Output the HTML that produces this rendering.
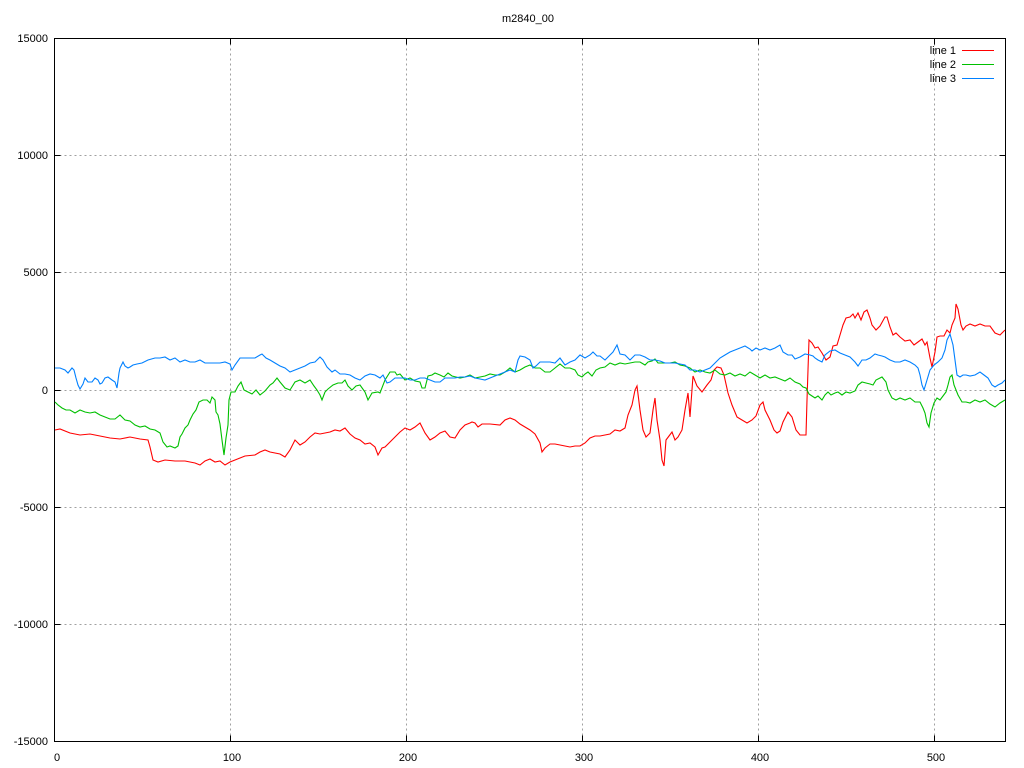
<!DOCTYPE html>
<html><head><meta charset="utf-8"><style>body{margin:0;background:#fff}svg{display:block}text{font-family:"Liberation Sans",sans-serif;font-size:11px;fill:#000}</style></head><body>
<svg width="1024" height="768" viewBox="0 0 1024 768">
<g stroke="#a0a0a0" stroke-dasharray="2,3" stroke-width="1" fill="none">
<path d="M54.5 155.5H1005.5M54.5 272.5H1005.5M54.5 390.5H1005.5M54.5 507.5H1005.5M54.5 624.5H1005.5"/>
<path d="M230.5 38.5V741.5M406.5 38.5V741.5M582.5 38.5V741.5M758.5 38.5V741.5M934.5 38.5V741.5"/>
</g>
<g stroke="#000" stroke-width="1" fill="none">
<rect x="54.5" y="38.5" width="951" height="703"/>
<path d="M54.5 155.5h6M54.5 272.5h6M54.5 390.5h6M54.5 507.5h6M54.5 624.5h6M1005.5 155.5h-6M1005.5 272.5h-6M1005.5 390.5h-6M1005.5 507.5h-6M1005.5 624.5h-6"/>
<path d="M230.5 741.5v-6M406.5 741.5v-6M582.5 741.5v-6M758.5 741.5v-6M934.5 741.5v-6M230.5 38.5v6M406.5 38.5v6M582.5 38.5v6M758.5 38.5v6M934.5 38.5v6"/>
</g>
<g text-anchor="end">
<text x="48" y="42">15000</text><text x="48" y="159">10000</text><text x="48" y="276">5000</text><text x="48" y="394">0</text><text x="48" y="511">-5000</text><text x="48" y="628">-10000</text><text x="48" y="745">-15000</text>
</g>
<g text-anchor="middle">
<text x="57" y="761">0</text><text x="232" y="761">100</text><text x="408" y="761">200</text><text x="584" y="761">300</text><text x="760" y="761">400</text><text x="936" y="761">500</text>
<text x="528" y="22">m2840_00</text>
</g>
<g text-anchor="end" style="font-family:'Liberation Mono',monospace">
<text x="956" y="54">line 1</text><text x="956" y="68">line 2</text><text x="956" y="82">line 3</text>
</g>
<path d="M962 50.5h32" stroke="#ff0000"/><path d="M962 64.5h32" stroke="#00c000"/><path d="M962 78.5h32" stroke="#0080ff"/>
<g fill="none" stroke-width="1.1">
<polyline stroke="#ff0000" points="55,430 60,429 70,433 80,435 90,434 100,436 110,438 120,439 130,437 140,439 148,440 150,447 153,460 158,462 165,460 175,461 185,461 195,463 200,465 205,461 210,459 215,462 220,461 225,465 230,462 235,460 240,458 245,456 255,455 260,452 265,450 270,452 280,454 285,457 290,450 295,440 300,445 305,442 310,437 315,433 320,434 330,432 335,430 340,431 345,428 350,434 355,438 360,440 365,444 370,443 375,447 378,455 382,448 385,447 392,440 400,432 405,428 410,430 415,427 420,423 425,433 430,440 435,437 440,433 445,431 450,437 455,438 460,430 465,425 470,423 472,422 475,423 478,427 482,424 490,424 500,425 505,420 510,418 515,420 520,424 525,427 530,430 535,434 540,443 542,452 545,448 550,444 555,444 560,445 565,446 570,447 575,446 580,446 585,443 590,438 595,436 600,436 605,435 610,434 615,430 620,431 625,428 628,415 632,405 635,390 637,386 640,410 643,430 646,437 650,433 653,410 655,398 657,420 660,440 662,460 664,466 666,440 669,436 672,432 675,440 678,437 682,430 685,410 688,393 690,417 693,376 697,386 702,392 707,385 711,380 714,370 717,367 721,368 724,375 728,393 732,405 737,417 742,420 747,423 752,420 756,416 760,405 763,402 765,410 770,420 774,430 777,433 780,431 783,422 788,412 792,417 796,430 800,435 806,435 807,400 809,340 812,343 815,348 818,347 822,353 826,360 830,357 833,346 837,345 840,335 843,325 846,318 850,317 853,314 855,318 858,313 861,320 864,312 867,310 870,318 872,325 876,330 880,326 885,317 887,317 890,327 893,335 896,333 900,337 905,341 910,340 914,345 918,342 922,339 925,345 927,342 930,358 932,367 935,352 937,337 940,336 944,336 947,330 950,333 952,325 955,318 956,304 958,309 961,325 963,330 966,326 970,324 975,326 980,324 985,326 990,326 995,333 1000,335 1005,330"/>
<polyline stroke="#00c000" points="55,402 58,405 62,408 66,410 70,410 75,413 80,410 85,412 90,413 95,412 100,415 105,417 110,419 115,419 120,415 125,420 130,421 135,425 140,427 145,426 150,429 155,430 160,433 163,442 167,447 170,446 175,448 178,446 180,437 182,434 185,428 188,425 190,420 193,414 196,410 199,402 203,400 207,400 210,403 212,397 215,400 216,412 218,415 220,424 222,440 224,455 226,438 228,425 229,400 231,392 235,392 238,386 241,382 244,390 248,392 252,394 256,390 260,395 265,391 270,385 273,383 277,378 280,382 285,388 290,390 295,382 300,380 305,383 310,380 314,386 317,390 320,395 322,400 325,392 328,389 333,385 338,383 342,383 345,380 348,386 352,390 356,386 360,385 365,392 368,400 372,393 378,392 380,393 385,380 390,372 395,372 397,375 400,374 405,380 410,378 415,381 420,382 422,388 425,388 428,376 432,375 435,373 440,375 444,377 448,373 452,376 456,377 460,378 465,377 470,375 475,378 480,377 485,376 490,374 495,375 500,375 505,372 510,368 515,372 520,370 525,367 530,365 535,368 540,368 545,372 550,372 555,368 560,364 565,368 570,368 575,370 578,375 582,377 585,374 588,372 592,376 596,370 600,368 605,367 610,363 615,365 620,363 625,364 630,363 635,362 640,362 645,365 648,362 652,361 655,359 658,363 665,363 670,363 675,362 680,365 685,366 690,368 695,372 700,370 705,372 710,373 715,370 720,374 725,375 730,373 735,376 740,374 745,376 750,372 755,375 760,378 765,375 770,378 775,377 780,379 785,381 790,378 795,382 800,384 803,387 806,388 809,394 812,396 815,398 818,396 822,400 825,395 828,392 831,395 835,393 838,392 842,395 846,392 850,393 855,391 858,385 862,382 866,383 870,384 873,385 876,380 880,378 882,377 886,382 888,390 892,398 896,400 900,398 905,400 910,398 915,402 920,402 923,408 925,413 927,423 929,427 931,413 934,403 937,398 940,400 943,396 946,392 948,385 950,377 952,375 954,385 958,395 962,402 966,402 970,403 975,400 980,402 985,400 990,404 995,407 1000,403 1005,400"/>
<polyline stroke="#0080ff" points="55,368 60,368 65,370 68,373 72,368 74,370 76,378 78,385 80,389 83,384 85,378 88,382 92,382 95,378 98,380 100,384 102,383 105,378 108,377 112,380 115,382 117,388 119,373 120,368 123,362 125,366 128,368 130,367 133,365 137,364 142,363 148,360 155,358 160,358 165,357 170,360 175,358 180,362 185,360 190,362 195,362 200,360 205,363 210,363 215,363 220,363 225,362 230,364 232,370 235,365 240,358 245,358 250,358 255,358 260,355 262,354 266,358 270,360 275,363 280,366 285,368 290,372 295,370 300,368 305,366 310,363 315,362 320,357 323,360 327,367 332,372 335,370 340,374 345,374 350,375 355,378 360,380 365,376 370,374 375,375 380,378 383,375 387,383 390,382 395,378 400,378 405,378 410,380 415,380 420,378 425,378 430,380 435,382 440,382 445,378 450,378 455,378 460,377 465,377 470,376 475,378 480,379 485,380 490,378 495,376 500,374 505,372 510,370 515,372 518,360 520,356 525,357 530,360 533,368 536,366 540,362 545,362 550,362 555,363 560,358 565,365 570,362 575,360 580,355 585,358 590,355 593,352 597,356 600,356 605,360 610,355 613,352 617,345 620,354 625,355 630,360 635,355 640,355 645,357 650,360 655,360 660,361 665,363 670,363 675,363 680,364 685,365 690,370 695,370 700,372 705,370 710,368 715,363 720,358 725,355 730,352 735,350 740,348 745,346 750,349 752,351 756,348 760,350 765,348 770,350 775,348 780,345 783,352 788,355 792,355 795,359 800,357 805,354 810,355 813,356 815,358 818,360 822,362 825,355 830,351 835,350 840,353 845,355 850,357 855,362 858,366 862,360 866,360 870,358 875,354 878,355 882,356 885,357 890,360 895,362 900,362 905,360 910,362 915,365 918,368 920,375 922,385 924,390 927,380 930,370 934,365 938,362 942,358 945,350 947,340 950,334 953,345 955,360 957,375 960,377 963,375 966,375 970,376 975,375 980,372 984,375 988,378 992,385 995,387 998,385 1002,383 1005,380"/>
</g>
</svg>
</body></html>
